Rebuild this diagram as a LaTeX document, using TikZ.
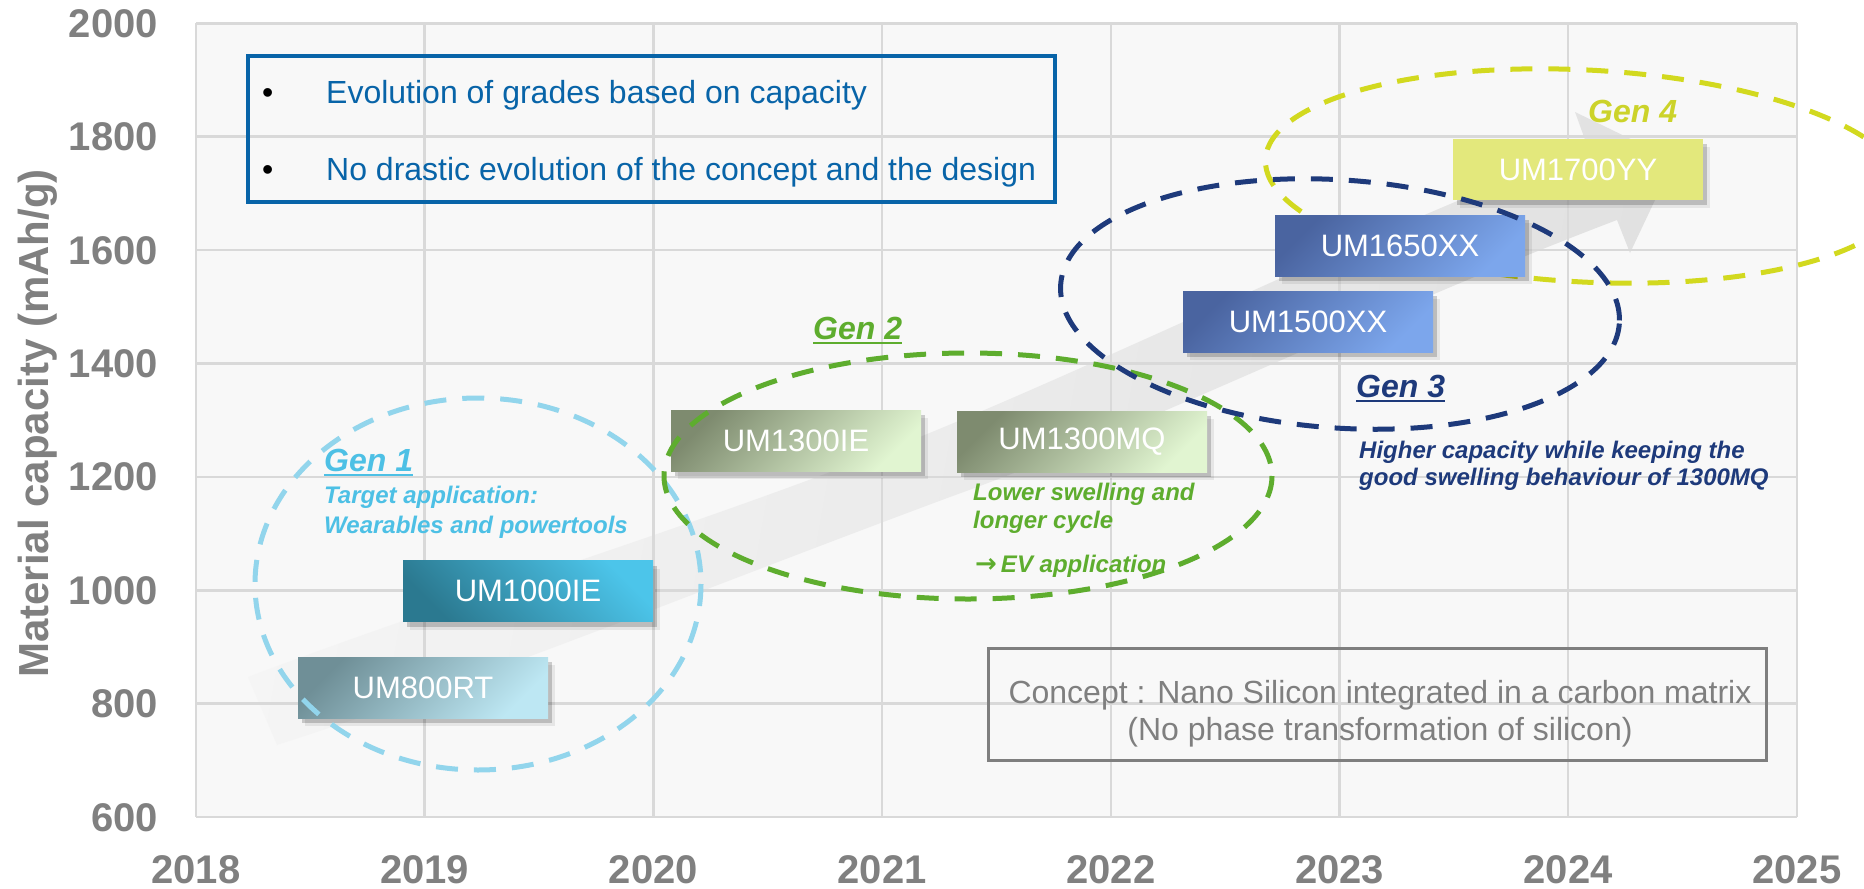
\documentclass[tikz,border=0pt]{standalone}
\usepackage{fontspec}
\setmainfont{Liberation Sans}
\newfontfamily\arrowfont{DejaVu Sans}
\usetikzlibrary{shadows}

\definecolor{gridgray}{HTML}{D9D9D9}
\definecolor{plotbg}{HTML}{F8F8F8}
\definecolor{axisgray}{HTML}{808080}
\definecolor{boxblue}{HTML}{0864A8}
\definecolor{conceptgray}{HTML}{7F7F7F}
\definecolor{genone}{HTML}{4DC0E5}
\definecolor{genonedash}{HTML}{92D5EC}
\definecolor{gentwo}{HTML}{5EAD2E}
\definecolor{genthree}{HTML}{1E3A7B}
\definecolor{genfour}{HTML}{CCD32A}
\definecolor{genfourdash}{HTML}{D2D91F}
\definecolor{tealA}{HTML}{6F8F97}
\definecolor{tealB}{HTML}{BDE7F3}
\definecolor{cyanA}{HTML}{2B7990}
\definecolor{cyanB}{HTML}{4CC5EA}
\definecolor{oliveA}{HTML}{7E8B6F}
\definecolor{oliveB}{HTML}{E1F5D1}
\definecolor{navyA}{HTML}{4A64A0}
\definecolor{navyB}{HTML}{7CA6EC}
\definecolor{limeA}{HTML}{E3E87C}

\newcommand\setfs[1]{\fontsize{#1}{#1}\selectfont}

\tikzset{
  gridline/.style={gridgray, line width=2.5pt},
  ticklabel/.style={inner sep=0pt, text=axisgray, font=\bfseries\setfs{40}},
  umbox/.style={minimum width=250pt, minimum height=61pt, inner sep=0pt, outer sep=0pt,
    text=white, font=\setfs{31},
    drop shadow={shadow xshift=4pt, shadow yshift=-5pt, opacity=.18, fill=black},
    drop shadow={shadow xshift=7pt, shadow yshift=-8pt, opacity=.07, fill=black}},
  tealbox/.style={umbox, top color=tealA, bottom color=tealB, shading angle=45},
  cyanbox/.style={umbox, top color=cyanB, bottom color=cyanA, shading angle=-45},
  olivebox/.style={umbox, top color=oliveA, bottom color=oliveB, shading angle=45},
  navybox/.style={umbox, top color=navyA, bottom color=navyB, shading angle=45},
  limebox/.style={umbox, fill=limeA},
  gendash/.style={line width=5pt, dash pattern=on 22pt off 16pt},
  genlabel/.style={inner sep=0pt, anchor=base west, font=\bfseries\itshape\setfs{32}},
  gennote/.style={inner sep=0pt, anchor=base west, font=\bfseries\itshape\setfs{24}},
  bullettext/.style={inner sep=0pt, anchor=base west, text=boxblue, font=\setfs{32}},
  concepttext/.style={inner sep=0pt, anchor=base, text=conceptgray, font=\setfs{32}},
}

\begin{document}
\begin{tikzpicture}[x=1pt, y=-1pt]
  \useasboundingbox (0,0) rectangle (1864,889);
  \clip (0,0) rectangle (1864,889);
  \fill[white] (0,0) rectangle (1864,889);

  % plot area
  \fill[plotbg] (196,23.3) rectangle (1797,817.2);

  % broad grey trend arrow behind everything
  \shade[left color=black!4, right color=black!13, shading angle=80, opacity=.85]
    (248,677) .. controls (450,600) and (700,525) .. (900,445)
    .. controls (1100,365) and (1350,240) .. (1588,148)
    -- (1575,112) -- (1674,160) -- (1630,253) -- (1617,220)
    .. controls (1380,310) and (1150,425) .. (950,497)
    .. controls (700,590) and (480,680) .. (277,745) -- cycle;

  % grid, tick labels
  \foreach \i in {0,...,7} {
    \pgfmathsetmacro\yy{23.3+113.4*\i}
    \pgfmathtruncatemacro\cap{2000-200*\i}
    \draw[gridline] (196,\yy) -- (1797,\yy);
    \node[ticklabel, anchor=base east] (ylab\i) at (158,\yy+14) {\cap};
  }
  \foreach \i in {0,...,7} {
    \pgfmathsetmacro\xx{196+228.7*\i}
    \pgfmathtruncatemacro\yr{2018+\i}
    \draw[gridline] (\xx,23.3) -- (\xx,817.2);
    \node[ticklabel, anchor=base] (xlab\i) at (\xx,883) {\yr};
  }

  % axis title
  \node[rotate=90, anchor=base, inner sep=0pt, text=axisgray, font=\bfseries\setfs{42}]
    (ytitle) at (48,423.5) {Material capacity (mAh/g)};

  % summary box with bullets
  \node[draw=boxblue, line width=4pt, minimum width=807pt, minimum height=146pt,
        inner sep=0pt, outer sep=0pt] (bullets) at (651.5,129) {};
  \node[bullettext, text=black] (dot1) at (262,103) {•};
  \node[bullettext, text=black] (dot2) at (262,180) {•};
  \node[bullettext] (line1) at (326,103) {Evolution of grades based on capacity};
  \node[bullettext] (line2) at (326,180) {No drastic evolution of the concept and the design};

  % concept box
  \node[draw=conceptgray, line width=3pt, minimum width=778pt, minimum height=112pt,
        inner sep=0pt, outer sep=0pt] (concept) at (1377,704) {};
  \node[concepttext] (concept1) at (1380,703) {Concept : Nano Silicon integrated in a carbon matrix};
  \node[concepttext] (concept2) at (1380,740) {(No phase transformation of silicon)};

  % fourth generation outline sits behind the grade boxes
  \draw[gendash, genfourdash, shift={(1585,176)}, rotate=-3] (0,0) ellipse [x radius=320, y radius=106];

  % material grades
  \node[tealbox]  (um800)  at (423,687.5)  {UM800RT};
  \node[cyanbox]  (um1000) at (528,591)    {UM1000IE};
  \node[olivebox] (um1300ie) at (796,440.5) {UM1300IE};
  \node[olivebox] (um1300mq) at (1082,441.5) {UM1300MQ};
  \node[navybox]  (um1500) at (1308,321.5) {UM1500XX};
  \node[navybox]  (um1650) at (1400,245.5) {UM1650XX};
  \node[limebox]  (um1700) at (1578,169.5) {UM1700YY};

  % other generation outlines
  \draw[gendash, genonedash] (478,584) ellipse [x radius=223, y radius=186];
  \draw[gendash, gentwo] (968,476) ellipse [x radius=304, y radius=123];
  \draw[gendash, genthree, shift={(1340,304)}, rotate=-4] (0,0) ellipse [x radius=280, y radius=124];

  % generation captions
  \node[genlabel, text=genone] (gen1) at (324,471) {Gen 1};
  \draw[genone, line width=2.5pt] ([yshift=-4pt]gen1.base west) -- ([yshift=-4pt]gen1.base east);
  \node[gennote, text=genone] (gen1a) at (324,503) {Target application:};
  \node[gennote, text=genone] (gen1b) at (324,533) {Wearables and powertools};

  \node[genlabel, text=gentwo] (gen2) at (813,339) {Gen 2};
  \draw[gentwo, line width=2.5pt] ([yshift=-4pt]gen2.base west) -- ([yshift=-4pt]gen2.base east);
  \node[gennote, text=gentwo] (gen2a) at (973,500) {Lower swelling and};
  \node[gennote, text=gentwo] (gen2b) at (973,528) {longer cycle};
  \node[gennote, text=gentwo] (gen2c) at (975,572) {{\arrowfont\bfseries\setfs{26}→}\,EV application};

  \node[genlabel, text=genthree] (gen3) at (1356,397) {Gen 3};
  \draw[genthree, line width=2.5pt] ([yshift=-4pt]gen3.base west) -- ([yshift=-4pt]gen3.base east);
  \node[gennote, text=genthree] (gen3a) at (1359,458) {Higher capacity while keeping the};
  \node[gennote, text=genthree] (gen3b) at (1359,485) {good swelling behaviour of 1300MQ};

  \node[genlabel, text=genfour] (gen4) at (1588,122) {Gen 4};
\end{tikzpicture}
\end{document}
